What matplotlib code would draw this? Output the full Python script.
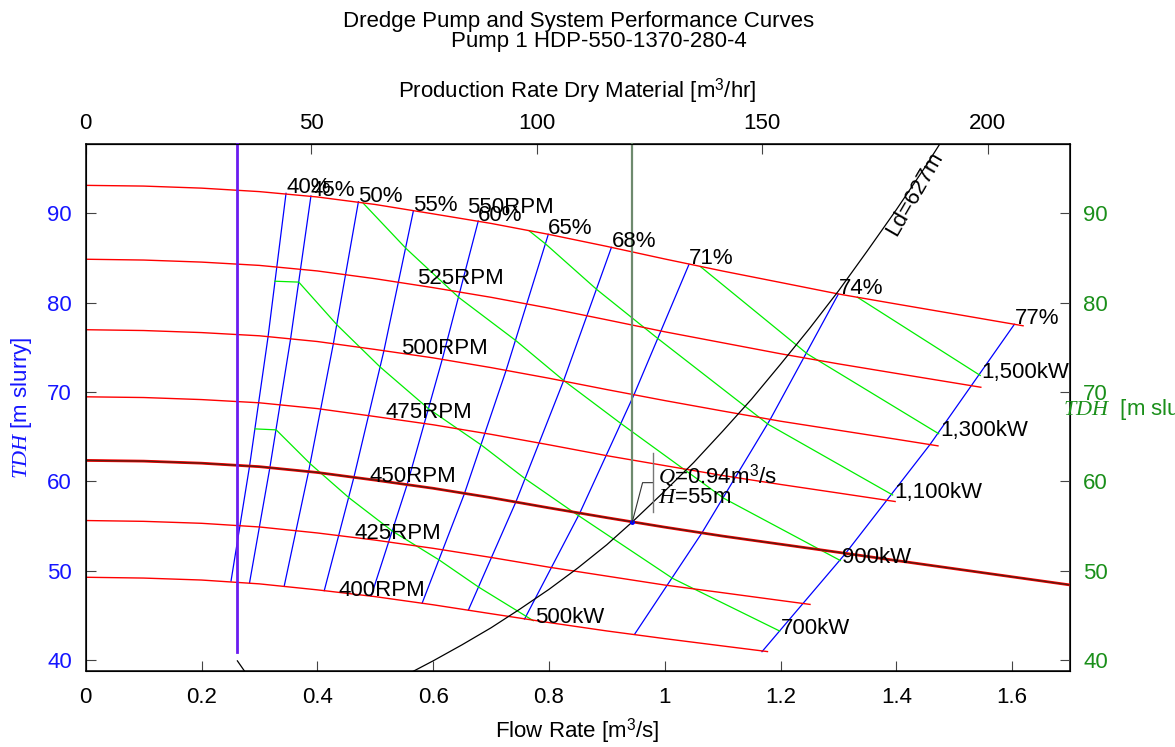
import matplotlib
matplotlib.use("Agg")
import matplotlib.pyplot as plt

plt.rcParams['font.family'] = ['Liberation Sans', 'DejaVu Sans']
plt.rcParams['mathtext.fontset'] = 'custom'
plt.rcParams['mathtext.rm'] = 'Liberation Sans'
plt.rcParams['mathtext.it'] = 'Liberation Serif:italic'
plt.rcParams['mathtext.bf'] = 'Liberation Sans:bold'
plt.rcParams['font.size'] = 16

# ---------------- pump head curves (flow m3/s, head m slurry) ----------------
speeds = [550, 525, 500, 475, 450, 425, 400]
q_grid = [0.0, 0.1, 0.2, 0.3, 0.4, 0.5, 0.6, 0.7, 0.8, 0.9, 1.0, 1.1, 1.2, 1.3, 1.4, 1.5, 1.6, 1.7]
q_end = {550: 1.619, 525: 1.546, 500: 1.472, 475: 1.398, 450: 1.700, 425: 1.251, 400: 1.1775}
pump_h = {
    550: [93.13, 93.05, 92.82, 92.43, 91.83, 90.99, 89.94, 88.87, 87.64, 86.30, 84.89, 83.54,
          82.26, 80.97, 79.85, 78.74, 77.41],
    525: [84.86, 84.77, 84.54, 84.17, 83.55, 82.68, 81.68, 80.60, 79.39, 78.08, 76.74, 75.51,
          74.28, 73.15, 72.08, 71.02, 70.53],
    500: [76.97, 76.88, 76.65, 76.29, 75.65, 74.76, 73.82, 72.73, 71.54, 70.27, 69.04, 67.87,
          66.73, 65.72, 64.71, 63.97],
    475: [69.46, 69.38, 69.15, 68.79, 68.14, 67.25, 66.33, 65.26, 64.09, 62.87, 61.76, 60.65,
          59.65, 58.69, 57.74],
    450: [62.34, 62.26, 62.03, 61.64, 60.99, 60.13, 59.22, 58.17, 57.03, 55.93, 54.87, 53.87,
          52.96, 52.05, 51.13, 50.22, 49.31, 48.40],
    425: [55.61, 55.52, 55.30, 54.89, 54.22, 53.42, 52.50, 51.48, 50.39, 49.39, 48.39, 47.53,
          46.66, 46.22],
    400: [49.26, 49.17, 48.95, 48.52, 47.85, 47.09, 46.18, 45.18, 44.19, 43.25, 42.39, 41.57,
          40.94],
}
rpm_labels = ['550RPM', '525RPM', '500RPM', '475RPM', '450RPM', '425RPM', '400RPM']

# ---------------- iso-efficiency lines (points at 550, 500, 450, 400 RPM) ----------------
eff_labels = ['40%', '45%', '50%', '55%', '60%', '65%', '68%', '71%', '74%', '77%']
eff_q = [
    [0.346, 0.315, 0.283, 0.251],
    [0.389, 0.354, 0.318, 0.283],
    [0.471, 0.428, 0.385, 0.343],
    [0.566, 0.515, 0.463, 0.412],
    [0.678, 0.616, 0.555, 0.493],
    [0.799, 0.726, 0.654, 0.581],
    [0.908, 0.825, 0.743, 0.661],
    [1.042, 0.947, 0.853, 0.758],
    [1.300, 1.182, 1.064, 0.948],
    [1.604, 1.458, 1.312, 1.168],
]
eff_h = [
    [92.24, 76.2, 61.7, 48.84],
    [91.94, 76.0, 61.5, 48.65],
    [91.30, 75.5, 61.1, 48.32],
    [90.29, 74.6, 60.4, 47.76],
    [89.14, 73.7, 59.6, 47.15],
    [87.65, 72.4, 58.6, 46.35],
    [86.19, 71.2, 57.7, 45.60],
    [84.29, 69.7, 56.4, 44.59],
    [80.97, 66.9, 54.2, 42.88],
    [77.58, 64.1, 51.9, 40.93],
]

# ---------------- shaft power contours (vertices on the efficiency lines) ----------------
power_labels = ['500kW', '700kW', '900kW', '1,100kW', '1,300kW', '1,500kW']
power_q = [
    [0.2921, 0.3290, 0.3882, 0.4545, 0.5298, 0.6106, 0.6788, 0.7604, 0.7730],
    [0.3267, 0.3680, 0.4342, 0.5085, 0.5926, 0.6831, 0.7594, 0.8506, 1.0138, 1.1986],
    [0.4795, 0.5529, 0.6446, 0.7428, 0.8258, 0.9250, 1.1024, 1.3034],
    [0.7658, 0.7941, 0.8829, 0.9890, 1.1785, 1.3937],
    [1.0617, 1.2464, 1.4732],
    [1.3327, 1.5450],
]
power_h = [
    [65.87, 65.76, 61.94, 58.17, 54.42, 51.19, 48.15, 44.90, 44.40],
    [82.40, 82.30, 77.50, 72.80, 68.10, 64.07, 60.27, 56.18, 49.13, 43.24],
    [91.12, 86.09, 80.57, 75.76, 71.27, 66.44, 58.09, 51.13],
    [88.05, 86.58, 81.46, 75.94, 66.39, 58.47],
    [84.04, 74.26, 65.33],
    [80.61, 71.85],
]

# ---------------- system curve, Ld = 627 m ----------------
sys_q = [0.55, 0.60, 0.65, 0.70, 0.75, 0.80, 0.85, 0.90, 0.944, 1.00, 1.05, 1.10,
         1.15, 1.20, 1.25, 1.30, 1.35, 1.40, 1.45, 1.50]
sys_h = [38.2, 39.9, 41.7, 43.6, 45.7, 47.9, 50.3, 52.9, 55.45, 58.9, 62.1, 65.6,
         69.2, 73.1, 77.1, 81.3, 85.8, 90.4, 95.2, 100.3]

# operating point and minimum-velocity flow
op_q, op_h = 0.944, 55.45
q_min, h_min_end = 0.261, 40.93

prod_per_flow = 128.35   # m3/hr dry material per m3/s slurry

fig = plt.figure(figsize=(11.75, 7.47), dpi=100)
ax = fig.add_axes([85.7 / 1175, 1 - 670.7 / 747, (1070 - 85.7) / 1175, (670.7 - 144) / 747])
ax.set_xlim(0, 1.7)
ax.set_ylim(38.8, 97.76)

# pump curves: grid flows up to the last point, which sits at the curve's end flow
for n in speeds:
    hs = pump_h[n]
    qs = q_grid[:len(hs) - 1] + [q_end[n]]
    if n == 450:
        ax.plot(qs, hs, color='#ff0000', lw=2.0, zorder=3)
        ax.plot(qs, hs, color='#5a1c10', lw=1.0, zorder=3.1)
    else:
        ax.plot(qs, hs, color='#ff0000', lw=1.0, zorder=3)

rpm_pos = [(0.658, 90.07), (0.572, 82.05), (0.545, 74.22), (0.518, 67.05),
           (0.491, 59.96), (0.464, 53.51), (0.436, 47.20)]
for lab, (x, y) in zip(rpm_labels, rpm_pos):
    ax.text(x, y, lab, ha='left', va='baseline', fontsize=16, zorder=6)

# efficiency lines
for lab, qs, hs in zip(eff_labels, eff_q, eff_h):
    ax.plot(qs, hs, color='#0000ff', lw=0.9, zorder=2)
    ax.text(qs[0], hs[0], lab, ha='left', va='baseline', fontsize=16, zorder=6)

# power contours
for lab, qs, hs in zip(power_labels, power_q, power_h):
    ax.plot(qs, hs, color='#00ee00', lw=0.9, zorder=2.5)
    ax.annotate(lab, (qs[-1], hs[-1]), xytext=(1, -2), textcoords='offset points',
                ha='left', va='baseline', fontsize=16, zorder=6)

# system curve
ax.plot(sys_q, sys_h, color='black', lw=0.9, zorder=4)
ax.text(1.431, 92.2, 'Ld=627m', rotation=60, ha='center', va='center',
        rotation_mode='anchor', fontsize=16, zorder=6)
ax.plot([0.262, 0.277], [39.9, 38.5], color='black', lw=0.9, zorder=4)

# minimum velocity flow line
ax.plot([q_min, q_min], [h_min_end, 97.76], color='#6a1cf0', lw=2.0, zorder=5, clip_on=False)

# operating point marker line and annotation
ax.plot([op_q, op_q], [op_h, 97.76], color='#6e8a6e', lw=1.6, zorder=4.5, clip_on=False)
ax.plot([op_q], [op_h], marker='o', ms=2.5, color='#0000ff', zorder=7)
ax.plot([op_q, 0.9618, 0.9803], [op_h, 59.85, 59.85], color='#333333', lw=0.8, zorder=7)
ax.plot([0.9803, 0.9803], [56.56, 63.17], color='#777777', lw=1.0, zorder=7)
ax.text(0.9885, 59.81, r'$Q$=0.94m$^3$/s', ha='left', va='baseline', fontsize=16, zorder=8)
ax.text(0.9885, 57.60, r'$H$=55m', ha='left', va='baseline', fontsize=16, zorder=8)

# axes styling
for s in ax.spines.values():
    s.set_linewidth(1.1)
ax.set_xticks([0, 0.2, 0.4, 0.6, 0.8, 1.0, 1.2, 1.4, 1.6])
ax.set_xticklabels(['0', '0.2', '0.4', '0.6', '0.8', '1', '1.2', '1.4', '1.6'])
ax.set_yticks([40, 50, 60, 70, 80, 90])
ax.tick_params(axis='x', direction='in', length=7, width=0.8, color='#444444', pad=11.5, labelsize=16)
ax.tick_params(axis='y', direction='in', length=7, width=0.8, color='#444444', pad=10,
               labelsize=16, labelcolor='#1515ff')

axr = ax.twinx()
axr.set_ylim(ax.get_ylim())
axr.set_yticks([40, 50, 60, 70, 80, 90])
axr.tick_params(axis='y', direction='in', length=7, width=0.8, color='#444444', pad=9.6,
                labelsize=16, labelcolor='#1a8f1a')

top = ax.secondary_xaxis('top', functions=(lambda q: q * prod_per_flow, lambda p: p / prod_per_flow))
top.set_xticks([0, 50, 100, 150, 200])
top.tick_params(axis='x', direction='in', length=7, width=0.8, color='#444444', pad=7.5, labelsize=16)

# titles and axis labels
fig.text(578.5 / 1175, 1 - 26.5 / 747, 'Dredge Pump and System Performance Curves',
         ha='center', va='baseline', fontsize=16)
fig.text(599 / 1175, 1 - 47 / 747, 'Pump 1 HDP-550-1370-280-4',
         ha='center', va='baseline', fontsize=16)
fig.text(577.5 / 1175, 1 - 97 / 747, r'Production Rate Dry Material [m$^3$/hr]',
         ha='center', va='baseline', fontsize=16)
fig.text(577.5 / 1175, 1 - 738 / 747, r'Flow Rate [m$^3$/s]',
         ha='center', va='baseline', fontsize=16)
fig.text(22 / 1175, 1 - 408 / 747, r'$TDH$ [m slurry]', rotation=90,
         ha='center', va='center', fontsize=16, color='#1515ff')
fig.text(1063 / 1175, 1 - 415 / 747, r'$TDH$  [m slurry]',
         ha='left', va='baseline', fontsize=16, color='#1a8f1a')

fig.savefig('out.png', dpi=100)
